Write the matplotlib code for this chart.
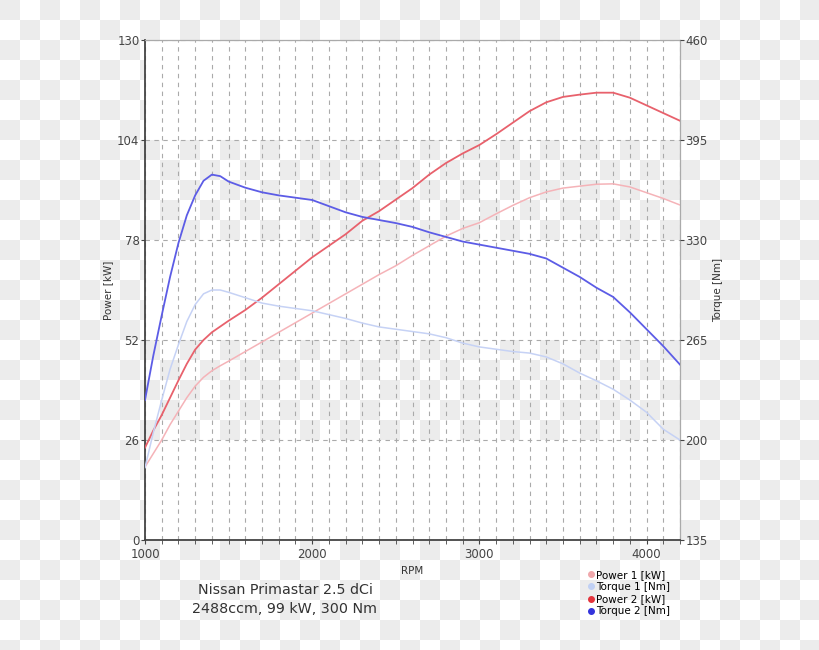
import numpy as np
import matplotlib
matplotlib.use('Agg')
import matplotlib.pyplot as plt
from matplotlib.lines import Line2D
from matplotlib.ticker import MultipleLocator

# engine data read from the dyno sheet (finer steps in the low rpm range)
rpm = [1000, 1050, 1100, 1150, 1200, 1250, 1300, 1350, 1400, 1450, 1500,
       1600, 1700, 1800, 1900, 2000,
       2100, 2200, 2300, 2400, 2500, 2600, 2700, 2800, 2900, 3000,
       3100, 3200, 3300, 3400, 3500, 3600, 3700, 3800, 3900, 4000, 4100, 4200]

power1 = [19, 22.5, 26, 30, 33.5, 37, 40, 42.3, 44, 45.3, 46.5,
          49, 51.5, 54, 56.5, 59,
          61.5, 64, 66.5, 69, 71.3, 74, 76.5, 79, 81, 82.5,
          84.8, 87, 89, 90.5, 91.5, 92, 92.5, 92.6, 91.8, 90.3, 88.8, 87.1]

power2 = [24, 28.5, 32.5, 37, 41.5, 45.8, 49.5, 52, 54, 55.5, 57,
          59.8, 63, 66.5, 70, 73.5,
          76.5, 79.5, 83, 85.5, 88.5, 91.5, 95, 98, 100.5, 102.7,
          105.5, 108.5, 111.5, 113.8, 115.2, 115.8, 116.3, 116.3, 115, 113, 111, 109]

torque1 = [182, 205, 226, 246, 262, 277, 288, 295, 297.5, 297.5, 296,
           292.5, 289, 287, 285.5, 284,
           281.5, 279, 276, 273.5, 272, 270.5, 269, 266.5, 263, 260.5,
           259, 257.5, 256.5, 254, 249.5, 243.5, 238.5, 233, 226, 218, 207, 200]

torque2 = [226, 255, 281, 306, 328, 346, 359, 368.5, 372.5, 371.5, 368,
           364, 361, 359, 357.5, 356,
           352, 348, 345, 343, 341, 338.5, 335, 332, 329, 327,
           325, 323, 321, 318, 312, 306, 299, 293, 283, 272, 261, 249]

kw_ticks = [0, 26, 52, 78, 104, 130]
nm_ticks = [135, 200, 265, 330, 395, 460]

c_p1 = '#f5b3b8'
c_t1 = '#c6d2f5'
c_p2 = '#e8616c'
c_t2 = '#5c5ce6'

fig = plt.figure(figsize=(8.2, 6.5), dpi=100)

# checkerboard background (fake transparency of the original)
bg = fig.add_axes([0, 0, 1, 1])
rows, cols = np.indices((33, 41))
checker = np.where((rows + cols) % 2 == 0, 236, 255)
bg.imshow(checker, cmap='gray', vmin=0, vmax=255, extent=(0, 820, 660, 0),
          interpolation='nearest', aspect='auto')
bg.set_xlim(0, 820)
bg.set_ylim(650, 0)
bg.axis('off')

ax = fig.add_axes([145/820, 1 - 540/650, 535/820, 500/650])
ax.set_facecolor('none')
ax.set_xlim(1000, 4200)
ax.set_ylim(0, 130)

# white horizontal bands
for lo in [0, 52, 104]:
    ax.axhspan(lo, lo + 26, color='white', zorder=0, lw=0)

ax.set_yticks(kw_ticks)
ax.set_xticks([1000, 2000, 3000, 4000])
ax.xaxis.set_minor_locator(MultipleLocator(100))
ax.set_axisbelow(True)
ax.grid(True, which='both', axis='x', color='#aaaaaa', ls=(0, (4, 4)), lw=0.8)
ax.grid(True, which='major', axis='y', color='#aaaaaa', ls=(0, (4, 4)), lw=0.8)

ax.tick_params(axis='both', which='both', direction='out', length=3,
               labelsize=8.5, colors='#444444', pad=1)
ax.tick_params(axis='x', which='major', pad=3)
for s in ['left', 'bottom']:
    ax.spines[s].set_color('#444444')
    ax.spines[s].set_linewidth(1.3)
for s in ['top', 'right']:
    ax.spines[s].set_color('#aaaaaa')
    ax.spines[s].set_linewidth(0.9)

ax.set_xlabel('RPM', fontsize=7.5, color='#333333', labelpad=3)
ax.set_ylabel('Power [kW]', fontsize=7.5, color='#333333')
ax.yaxis.set_label_coords(-0.06, 0.5)

ax2 = ax.twinx()
ax2.set_ylim(135, 460)
ax2.set_yticks(nm_ticks)
ax2.tick_params(axis='y', direction='out', length=3, labelsize=8.5,
                colors='#444444', pad=1)
for s in ax2.spines.values():
    s.set_visible(False)
ax2.set_ylabel('Torque [Nm]', fontsize=7.5, color='#333333', rotation=90)
ax2.yaxis.set_label_coords(1.0617, 0.5)

ax.plot(rpm, power1, color=c_p1, lw=1.1, zorder=3)
ax2.plot(rpm, torque1, color=c_t1, lw=1.1, zorder=3)
ax.plot(rpm, power2, color=c_p2, lw=1.3, zorder=4)
ax2.plot(rpm, torque2, color=c_t2, lw=1.3, zorder=4)

fig.text(285/820, 1 - 590/650, 'Nissan Primastar 2.5 dCi', ha='center',
         va='center', fontsize=10.3, color='#333333')
fig.text(285/820, 1 - 609/650, '2488ccm, 99 kW, 300 Nm', ha='center',
         va='center', fontsize=10.3, color='#333333')

handles = [
    Line2D([], [], ls='', marker='o', ms=4, color='#f0a8ac', label='Power 1 [kW]'),
    Line2D([], [], ls='', marker='o', ms=4, color='#c0d0f4', label='Torque 1 [Nm]'),
    Line2D([], [], ls='', marker='o', ms=4, color='#e4343c', label='Power 2 [kW]'),
    Line2D([], [], ls='', marker='o', ms=4, color='#3434dc', label='Torque 2 [Nm]'),
]
fig.legend(handles=handles, loc='upper left', bbox_to_anchor=(588/820, 1 - 570/650),
           frameon=False, fontsize=7.5, handlelength=0.6, handletextpad=0.15,
           labelspacing=0.2, borderpad=0, borderaxespad=0)

fig.savefig('out.png', dpi=100)
